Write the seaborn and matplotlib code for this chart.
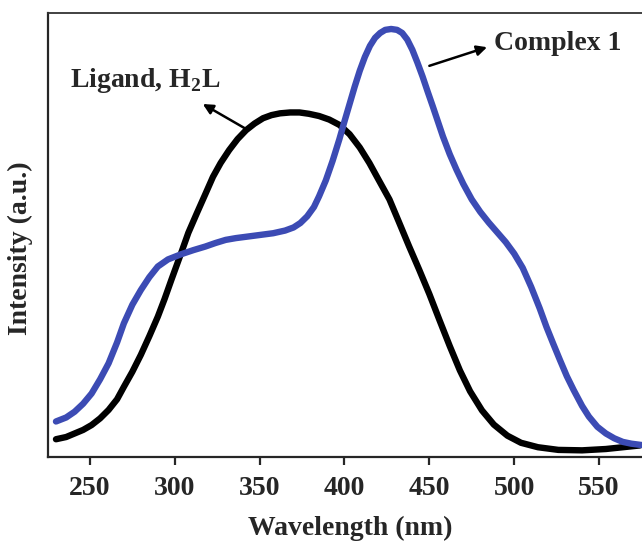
import matplotlib
matplotlib.use('Agg')
import matplotlib.pyplot as plt
import numpy as np
import pandas as pd
import seaborn as sns

# Emission spectra (normalised intensity, a.u.)
ligand_nm = [230, 236, 241, 246, 251, 256, 261, 266, 270, 275, 280, 285, 290, 294, 298,
             304, 308, 313, 318, 322.5, 327, 332, 337, 342, 347, 352, 357, 362, 368,
             373.5, 379, 385, 391, 397, 403, 409, 414.7, 420, 426.5, 432, 438, 444,
             450, 456, 462, 468, 474, 481, 488, 496, 504, 514, 526, 540, 554, 574]
ligand_int = [0.040, 0.045, 0.053, 0.061, 0.072, 0.087, 0.106, 0.130, 0.158, 0.192,
              0.230, 0.272, 0.316, 0.356, 0.399, 0.462, 0.505, 0.549, 0.592, 0.631,
              0.662, 0.691, 0.716, 0.736, 0.751, 0.763, 0.770, 0.774, 0.776, 0.776,
              0.773, 0.768, 0.760, 0.748, 0.727, 0.697, 0.662, 0.625, 0.580, 0.530,
              0.475, 0.422, 0.367, 0.308, 0.250, 0.195, 0.148, 0.105, 0.073, 0.048,
              0.032, 0.022, 0.016, 0.015, 0.018, 0.026]

complex_nm = [230, 236, 241, 246, 251, 256, 261, 266, 270, 275, 280, 285, 290, 296,
              304, 311, 318, 324, 330, 336, 342, 350, 358, 365, 370, 374, 378, 382,
              385, 389, 393, 397, 400, 403, 406, 409, 412, 415, 418, 421, 424, 427.5,
              431, 434, 437, 440, 443, 446, 449, 452, 455, 458, 462, 466, 470, 475,
              480, 485, 490, 495, 500, 505, 510, 515, 519, 523, 527, 531, 535, 540,
              544, 549, 554, 559, 564, 569, 575]
complex_int = [0.080, 0.089, 0.102, 0.120, 0.143, 0.175, 0.211, 0.258, 0.301, 0.343,
               0.376, 0.405, 0.429, 0.445, 0.457, 0.466, 0.474, 0.482, 0.489, 0.493,
               0.496, 0.500, 0.504, 0.510, 0.517, 0.527, 0.542, 0.563, 0.587, 0.623,
               0.667, 0.716, 0.756, 0.795, 0.834, 0.870, 0.901, 0.926, 0.944, 0.955,
               0.962, 0.964, 0.962, 0.955, 0.940, 0.917, 0.888, 0.857, 0.823, 0.790,
               0.756, 0.722, 0.682, 0.647, 0.615, 0.580, 0.552, 0.528, 0.506, 0.484,
               0.458, 0.426, 0.383, 0.335, 0.293, 0.255, 0.218, 0.182, 0.151, 0.115,
               0.091, 0.068, 0.053, 0.042, 0.034, 0.030, 0.027]

x_ticks = [250, 300, 350, 400, 450, 500, 550]

df = pd.concat([
    pd.DataFrame({'wavelength': ligand_nm, 'intensity': ligand_int, 'sample': 'Ligand'}),
    pd.DataFrame({'wavelength': complex_nm, 'intensity': complex_int, 'sample': 'Complex 1'}),
])

sns.set_style('ticks')
plt.rcParams['font.family'] = ['Liberation Serif', 'DejaVu Serif']
plt.rcParams['font.weight'] = 'bold'
plt.rcParams['mathtext.fontset'] = 'custom'
plt.rcParams['mathtext.rm'] = 'Liberation Serif:bold'
plt.rcParams['mathtext.bf'] = 'Liberation Serif:bold'

fig = plt.figure(figsize=(6.42, 5.41), dpi=100)
ax = fig.add_axes([48 / 642, 84 / 541, 594 / 642, 444 / 541])

sns.lineplot(data=df, x='wavelength', y='intensity', hue='sample', sort=False,
             palette={'Ligand': 'black', 'Complex 1': '#3c4bb4'},
             linewidth=4.6, legend=False, ax=ax, zorder=3)
for line in ax.get_lines():
    line.set_solid_capstyle('round')
    line.set_solid_joinstyle('round')

ax.set_xlim(225.3, 575.3)
ax.set_ylim(0, 1)
ax.set_xticks(x_ticks)
ax.set_yticks([])
ax.tick_params(axis='x', direction='out', length=6, width=1.6, pad=8, labelsize=20)
for lab in ax.get_xticklabels():
    lab.set_fontweight('bold')

ax.spines['right'].set_visible(False)
ax.spines['left'].set_linewidth(1.6)
ax.spines['bottom'].set_linewidth(1.6)
ax.spines['top'].set_linewidth(1.3)
ax.spines['top'].set_color('#333333')

ax.set_xlabel('Wavelength (nm)', fontsize=20, fontweight='bold')
ax.set_ylabel('Intensity (a.u.)', fontsize=20, fontweight='bold')
ax.xaxis.set_label_coords(0.508, -0.160)
ax.xaxis.label.set_va('center')
ax.yaxis.set_label_coords(-0.047, 0.47)
ax.yaxis.label.set_va('center')

arrow = dict(arrowstyle='-|>,head_length=0.6,head_width=0.3', color='black', lw=1.8,
             shrinkA=0, shrinkB=0)
ax.text(238, 0.849, r'Ligand, H$_{\mathbf{2}}$L', fontsize=20, fontweight='bold',
        va='center', ha='left')
ax.annotate('', xy=(316.5, 0.795), xytext=(341, 0.741), arrowprops=arrow)
ax.text(488, 0.932, 'Complex 1', fontsize=20, fontweight='bold', va='center', ha='left')
ax.annotate('', xy=(484, 0.923), xytext=(450, 0.881), arrowprops=arrow)

fig.savefig('out.png', dpi=100)
